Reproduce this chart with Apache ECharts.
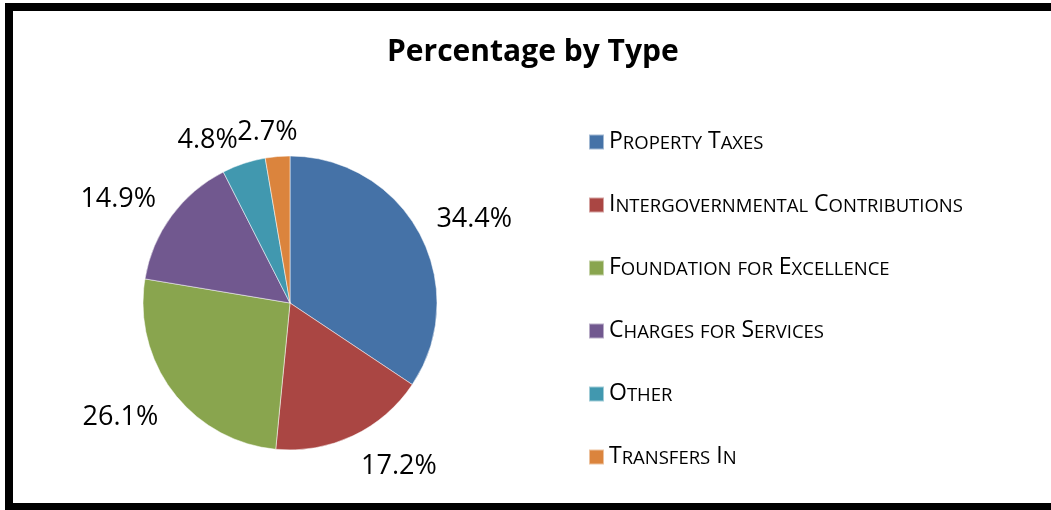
<!DOCTYPE html>
<html>
<head>
<meta charset="utf-8">
<title>Percentage by Type</title>
<script src="https://cdn.jsdelivr.net/npm/echarts@6.0.0/dist/echarts.min.js"></script>
<style>
  html, body { margin: 0; padding: 0; background: #fff; }
  #pieChart { width: 1051px; height: 510px; }
</style>
</head>
<body>
<div id="pieChart"></div>
<script>
var categories = ["Property Taxes", "Intergovernmental Contributions", "Foundation for Excellence", "Charges for Services", "Other", "Transfers In"];
var percents = [34.4, 17.2, 26.1, 14.9, 4.8, 2.7];
var colors = ["#4572A7", "#AA4643", "#89A54E", "#71588F", "#4198AF", "#DB843D"];

var cx = 290, cy = 303, R = 147;
var labelGap = 19;      // distance between pie edge and label box
var labelCapH = 19;     // visual height of the label digits
var labelShift = 4;     // digits sit a bit below the em-box middle

// mid angle of every slice, clockwise from 12 o'clock
var total = percents.reduce(function (a, b) { return a + b; }, 0);
var midAngles = [];
var acc = 0;
percents.forEach(function (v) {
  midAngles.push((acc + v / 2) / total * 2 * Math.PI);
  acc += v;
});

// legend names drawn in small caps
function smallCaps(name) {
  return name.split(" ").map(function (w) {
    var first = w.charAt(0);
    var rest = w.slice(1).toUpperCase();
    if (first === first.toUpperCase()) {
      return "{big|" + first + "}" + (rest ? "{small|" + rest + "}" : "");
    }
    return "{small|" + w.toUpperCase() + "}";
  }).join("{big| }");
}

var chart = echarts.init(document.getElementById("pieChart"));
var option = {
  animation: false,
  color: colors,
  title: {
    text: "Percentage by Type",
    left: 382,
    top: 32,
    textStyle: {
      fontFamily: "Open Sans",
      fontWeight: "bold",
      fontSize: 30,
      color: "#000"
    }
  },
  legend: {
    orient: "vertical",
    left: 588,
    top: 130,
    padding: 0,
    itemWidth: 15,
    itemHeight: 15,
    itemGap: 40,
    icon: "rect",
    selectedMode: false,
    data: categories,
    formatter: smallCaps,
    textStyle: {
      color: "#000",
      rich: {
        big: { fontFamily: "Open Sans", fontSize: 23, lineHeight: 22, color: "#000", verticalAlign: "bottom" },
        small: { fontFamily: "Open Sans", fontSize: 18.5, lineHeight: 18, color: "#000", verticalAlign: "bottom" }
      }
    }
  },
  graphic: [
    {
      type: "rect",
      silent: true,
      shape: { x: 9, y: 7, width: 1100, height: 500 },
      style: { fill: "none", stroke: "#000", lineWidth: 8 }
    }
  ],
  series: [
    {
      type: "pie",
      center: [cx, cy],
      radius: R,
      startAngle: 90,
      clockwise: true,
      avoidLabelOverlap: false,
      data: categories.map(function (c, i) {
        return { name: c, value: percents[i] };
      }),
      itemStyle: {
        borderColor: "rgba(255,255,255,0.5)",
        borderWidth: 1
      },
      label: {
        show: true,
        position: "outside",
        formatter: "{c}%",
        fontFamily: "Open Sans",
        fontSize: 27,
        color: "#000"
      },
      labelLine: { show: false },
      emphasis: { disabled: true },
      // put the label box beside the slice, corner towards the pie
      labelLayout: function (p) {
        var a = midAngles[p.dataIndex];
        var dx = Math.sin(a), dy = -Math.cos(a);
        var d = R + labelGap;
        var hw = p.labelRect.width / 2, hh = labelCapH / 2;
        return {
          x: cx + d * dx + Math.sign(dx) * hw * Math.min(1, Math.abs(dx) / 0.3),
          y: cy + d * dy + Math.sign(dy) * hh * Math.min(1, Math.abs(dy) / 0.3) + labelShift,
          align: "center",
          verticalAlign: "middle"
        };
      }
    }
  ]
};
chart.setOption(option);
window.addEventListener("resize", function () {
  chart.resize();
});
</script>
</body>
</html>
